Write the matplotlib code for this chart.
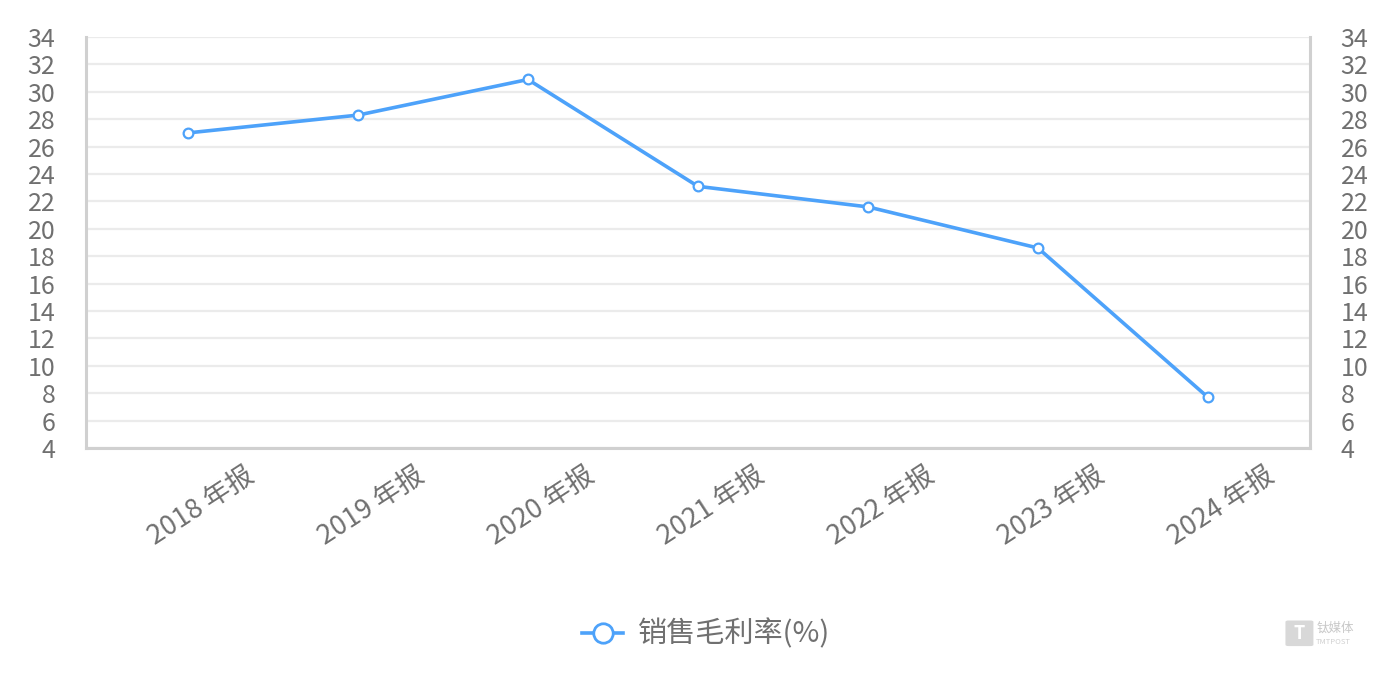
import matplotlib
matplotlib.use('Agg')
from matplotlib import pyplot as plt
from matplotlib import transforms
from matplotlib.lines import Line2D
from matplotlib.patches import FancyBboxPatch

plt.rcParams['font.family'] = ['Noto Sans CJK SC', 'DejaVu Sans']

years = ['2018 年报', '2019 年报', '2020 年报', '2021 年报', '2022 年报', '2023 年报', '2024 年报']
gross_margin = [27.0, 28.3, 30.9, 23.1, 21.6, 18.6, 7.7]
y_ticks = list(range(4, 35, 2))

line_color = '#4DA2FA'
text_color = '#707070'
axis_color = '#D0D0D0'
grid_color = '#EBEBEB'

fig = plt.figure(figsize=(13.98, 6.73), dpi=100)
ax = fig.add_axes([0.0615, 0.3343, 0.8755, 0.6107])

x_values = list(range(len(years)))
ax.plot(x_values, gross_margin, color=line_color, linewidth=2.6, marker='o', markersize=7,
        markerfacecolor='white', markeredgecolor=line_color, markeredgewidth=1.6, zorder=3)

ax.set_xlim(-0.6, len(years) - 0.4)
ax.set_ylim(4, 34)
ax.set_yticks(y_ticks)
ax.set_yticklabels([str(v) for v in y_ticks])
ax.yaxis.grid(True, color=grid_color, linewidth=1.6)
ax.set_axisbelow(True)

ax.tick_params(axis='y', length=0, pad=22, labelsize=18, labelcolor=text_color,
               labelleft=True, labelright=True)

ax.set_xticks(x_values)
ax.set_xticklabels(years, rotation=33, ha='right', rotation_mode='anchor')
ax.tick_params(axis='x', length=0, pad=10, labelsize=19.5, labelcolor=text_color)
offset = transforms.ScaledTranslation(57 / 100, 0, fig.dpi_scale_trans)
for lbl in ax.get_xticklabels():
    lbl.set_transform(lbl.get_transform() + offset)

ax.spines['top'].set_visible(False)
for side in ['left', 'right', 'bottom']:
    ax.spines[side].set_color(axis_color)
    ax.spines[side].set_linewidth(2.2)

# legend
handle = Line2D([], [], color=line_color, linewidth=2.6, marker='o', markersize=14,
                markerfacecolor='white', markeredgecolor=line_color, markeredgewidth=2)
leg = fig.legend([handle], ['销售毛利率(%)'], loc='center', bbox_to_anchor=(0.505, 0.057),
                 frameon=False, fontsize=21, handlelength=1.4, handletextpad=0.5)
for t in leg.get_texts():
    t.set_color(text_color)

# watermark
fig.patches.append(FancyBboxPatch((0.9215, 0.042), 0.016, 0.034, boxstyle='round,pad=0.002',
                                  transform=fig.transFigure, facecolor='#D8D8D8', edgecolor='none'))
fig.text(0.9295, 0.059, 'T', color='white', fontsize=13, fontweight='bold', ha='center', va='center')
fig.text(0.9415, 0.066, '钛媒体', color='#C8C8C8', fontsize=9, ha='left', va='center')
fig.text(0.9415, 0.046, 'TMTPOST', color='#D0D0D0', fontsize=5.5, ha='left', va='center')

plt.savefig('out.png', dpi=100)
plt.close()
